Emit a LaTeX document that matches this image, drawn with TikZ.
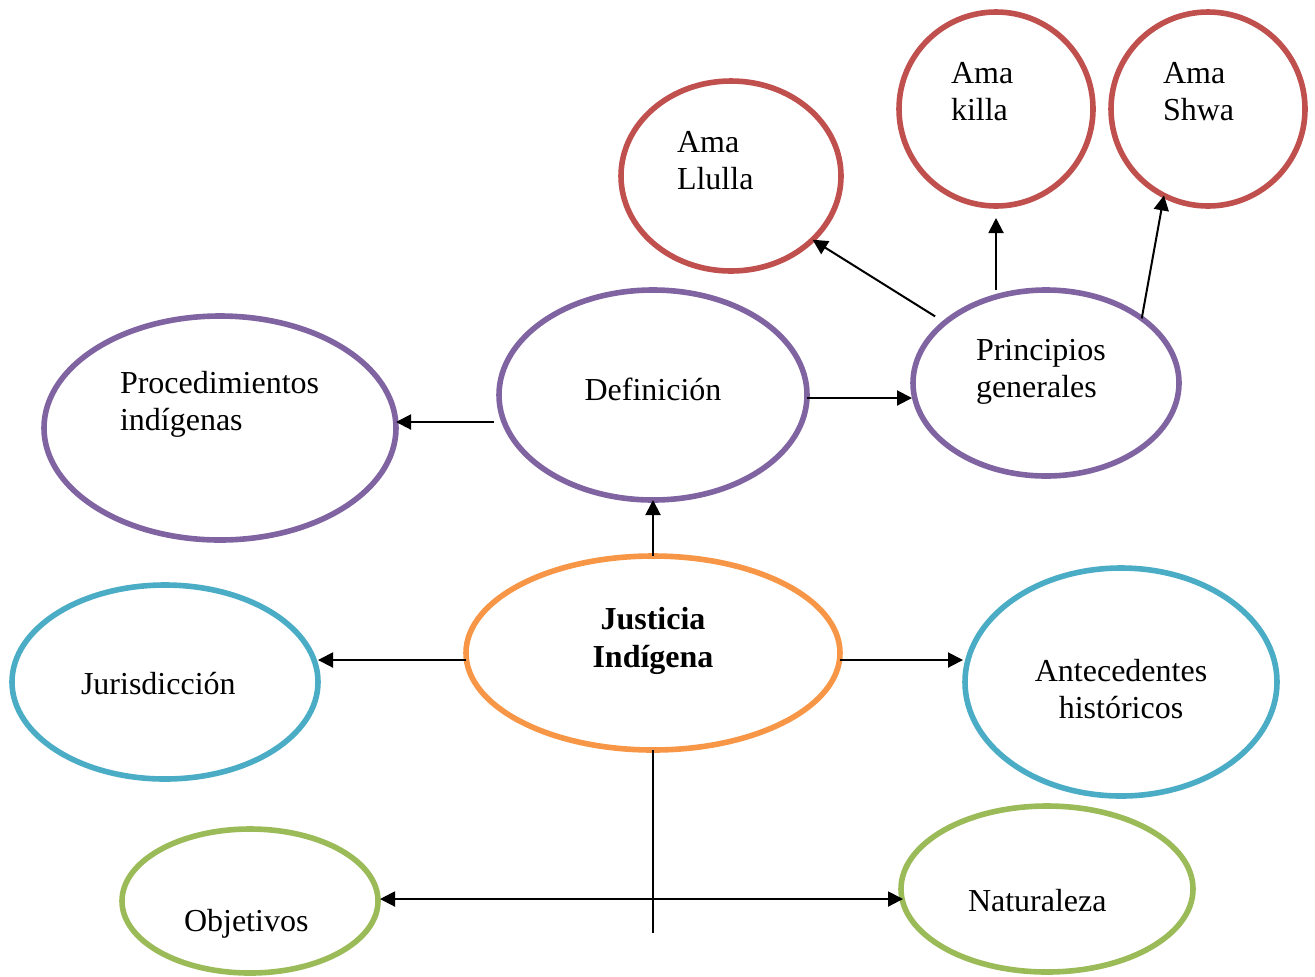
\documentclass[tikz,border=0pt]{standalone}
\usepackage{fontspec}
\setmainfont{Liberation Serif}
\usetikzlibrary{shapes.geometric,arrows.meta,calc}
\definecolor{cred}{HTML}{C0504D}
\definecolor{cpurple}{HTML}{8064A2}
\definecolor{corange}{HTML}{F79646}
\definecolor{cblue}{HTML}{4BACC6}
\definecolor{cgreen}{HTML}{9BBB59}
\begin{document}
\begin{tikzpicture}[x=0.5pt,y=-0.5pt,
  oval/.style={ellipse,draw=#1,line width=2.8pt,inner sep=0pt,outer sep=0pt},
  lbl/.style={inner sep=0pt,outer sep=0pt,font=\fontsize{16}{18.2}\selectfont},
  arr/.style={line width=1pt,-{Triangle[length=7.5pt,width=7.5pt]}},
  ln/.style={line width=1pt}]
\useasboundingbox (0,0) rectangle (1315,976);
% ellipses
\node[oval=cred,minimum width=110pt,minimum height=95pt] (llulla) at (731,176) {};
\node[oval=cred,minimum width=97pt,minimum height=97pt] (killa) at (996,109) {};
\node[oval=cred,minimum width=97pt,minimum height=97pt] (shwa) at (1208,109) {};
\node[oval=cpurple,minimum width=154pt,minimum height=105pt] (def) at (653,395) {};
\node[oval=cpurple,minimum width=133pt,minimum height=93pt] (prin) at (1046,383) {};
\node[oval=cpurple,minimum width=176pt,minimum height=112pt] (proc) at (220,428) {};
\node[oval=corange,minimum width=187pt,minimum height=97pt] (just) at (653,653) {};
\node[oval=cblue,minimum width=153pt,minimum height=97pt] (jur) at (165,682) {};
\node[oval=cblue,minimum width=156pt,minimum height=114pt] (ant) at (1121,682) {};
\node[oval=cgreen,minimum width=128pt,minimum height=72pt] (obj) at (250,901) {};
\node[oval=cgreen,minimum width=146pt,minimum height=83pt] (nat) at (1047,889) {};
% labels (base anchor = baseline of last line)
\node[lbl,anchor=base west,align=left] (tllulla) at (677,189) {Ama\\Llulla};
\node[lbl,anchor=base west,align=left] (tkilla) at (951,120) {Ama\\killa};
\node[lbl,anchor=base west,align=left] (tshwa) at (1163,120) {Ama\\Shwa};
\node[lbl,anchor=base] (tdef) at (653,400) {Definición};
\node[lbl,anchor=base west,align=left] (tprin) at (976,397) {Principios\\generales};
\node[lbl,anchor=base west,align=left] (tproc) at (120,430) {Procedimientos\\indígenas};
\node[lbl,anchor=base,align=center,font=\fontsize{16}{18.6}\selectfont\bfseries] (tjust) at (653,667) {Justicia\\Indígena};
\node[lbl,anchor=base west] (tjur) at (81,694) {Jurisdicción};
\node[lbl,anchor=base,align=center] (tant) at (1121,718) {Antecedentes\\históricos};
\node[lbl,anchor=base west] (tobj) at (184,931) {Objetivos};
\node[lbl,anchor=base west] (tnat) at (968,911) {Naturaleza};
% connectors
\draw[arr] (just.north) -- (def.south);
\draw[arr] ([yshift=-3.5pt]just.west) -- ([yshift=11pt]jur.east);
\draw[arr] ([yshift=-3.5pt]just.east) -- ([xshift=-1pt,yshift=11pt]ant.west);
\coordinate (bot) at (653,933);
\coordinate (hub) at (653,899);
\draw[ln] (just.south) -- (bot);
\draw[arr] (hub) -- ([xshift=1pt]obj.east |- hub);
\draw[arr] (hub) -- ([xshift=1pt]nat.west |- hub);
\draw[arr] ([xshift=-2.5pt,yshift=-13.5pt]def.west) -- ([yshift=3pt]proc.east);
\draw[arr] ([yshift=-1.5pt]def.east) -- ([xshift=-0.5pt,yshift=-7.5pt]prin.west);
\draw[arr] ([xshift=-5pt,yshift=3pt]prin.149) -- (llulla.-38.7);
\draw[arr] (killa.south |- prin.north) -- ([yshift=-6pt]killa.south);
\draw[arr] (prin.34.7) -- (shwa.243);
\end{tikzpicture}
\end{document}
